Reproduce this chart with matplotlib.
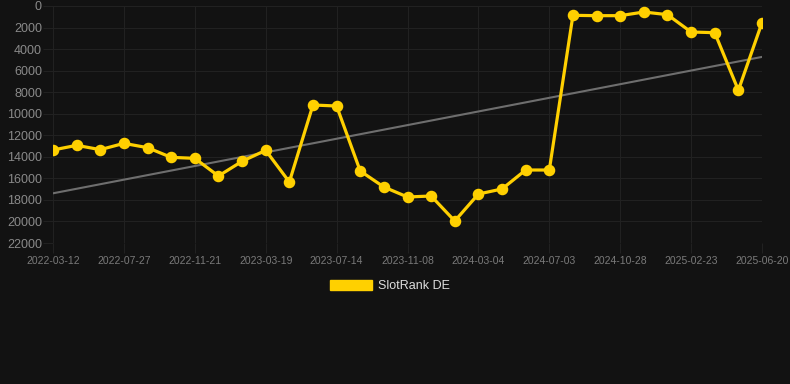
import matplotlib
matplotlib.use("Agg")
import matplotlib.pyplot as plt
import numpy as np
from matplotlib.patches import Patch

dates = ["2022-03-12", "", "", "2022-07-27", "", "", "2022-11-21", "", "", "2023-03-19", "", "",
         "2023-07-14", "", "", "2023-11-08", "", "", "2024-03-04", "", "", "2024-07-03", "", "",
         "2024-10-28", "", "", "2025-02-23", "", "", "2025-06-20"]
rank = [13367, 12934, 13335, 12750, 13150, 14050, 14140, 15781, 14416, 13398, 16338,
        9190, 9283, 15316, 16802, 17730, 17637, 19958, 17451, 16987, 15224, 15224,
        866, 897, 897, 557, 805, 2414, 2476, 7827, 1547]
series_label = "SlotRank DE"
yticks = list(range(0, 22001, 2000))

bg = "#121212"
grid_c = "#212121"
yellow = "#FFD000"

plt.rcParams['font.family'] = ['Liberation Sans', 'DejaVu Sans']
fig = plt.figure(figsize=(7.9, 3.84), dpi=100, facecolor=bg)
ax = fig.add_axes([53/790, 1 - 243/384, (762-53)/790, (243-6)/384], facecolor=bg)

x = np.arange(len(rank))
coef = np.polyfit(x, rank, 1)
ax.plot(x, np.polyval(coef, x), color="#6e6e6e", lw=1.5, zorder=2)
ax.plot(x, rank, color=yellow, lw=2.3, marker="o", markersize=7.3, zorder=3)

ax.set_xlim(0, len(rank) - 1)
ax.set_ylim(22000, 0)
ax.set_yticks(yticks)
ax.set_yticklabels([str(v) for v in yticks])
tick_idx = [i for i, d in enumerate(dates) if d]
ax.set_xticks(tick_idx)
ax.set_xticklabels([dates[i] for i in tick_idx])
ax.grid(True, color=grid_c, lw=0.8)
for s in ax.spines.values():
    s.set_visible(False)
ax.tick_params(axis='y', colors=grid_c, labelcolor="#8a8a8a", labelsize=9, length=7, width=0.8, pad=1)
ax.tick_params(axis='x', colors=grid_c, labelcolor="#7a7a7a", labelsize=7.5, length=7, width=0.8, pad=2)

leg = fig.legend(handles=[Patch(facecolor=yellow, edgecolor=yellow)], labels=[series_label],
                 loc="center", bbox_to_anchor=(390/790, 1 - 286/384), frameon=False,
                 handlelength=3.3, handleheight=0.85, fontsize=9, labelcolor="#dddddd",
                 handletextpad=0.5)
fig.savefig("out.png", dpi=100, facecolor=bg)
